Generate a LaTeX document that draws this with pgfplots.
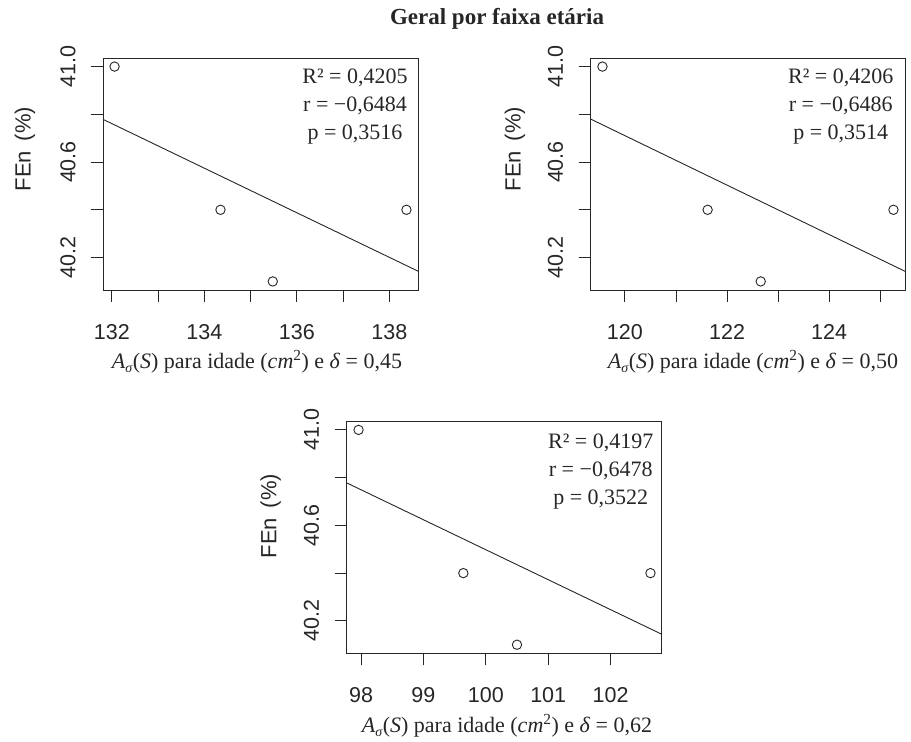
\documentclass[border=0pt]{standalone}
\usepackage{fontspec}
\setmainfont{Liberation Serif}
\setsansfont{Liberation Sans}
\usepackage{pgfplots}
\pgfplotsset{compat=1.18}
\definecolor{ink}{gray}{0.15}
\pgfplotsset{
 panel/.style={
  scale only axis, width=315bp, height=232bp,
  axis line style={line width=0.9bp, ink},
  tick align=outside, major tick length=12bp,
  tick style={line width=0.9bp, ink},
  xtick pos=bottom, ytick pos=left,
  ymin=40.064, ymax=41.036,
  ytick={40.2,40.4,40.6,40.8,41.0},
  yticklabels={40.2,,40.6,,41.0},
  ticklabel style={font=\fontsize{21.5bp}{24bp}\sffamily\selectfont, text=ink},
  yticklabel style={xshift=-12bp, rotate=90, anchor=south},
  xticklabel style={anchor=center, yshift=-30bp},
 },
 pts/.style={only marks, mark=o, mark size=4.7bp, mark options={line width=0.9bp, ink}},
 fit/.style={ink, line width=0.9bp},
}
\newcommand{\xlab}[1]{\textit{A}\raisebox{-0.22em}{\fontsize{14bp}{15bp}\selectfont\textit{σ}}(\textit{S}) para idade (\textit{cm}\textsuperscript{2}) e \textit{δ} = #1}
\begin{document}
\begin{tikzpicture}[x=1bp,y=1bp]
\useasboundingbox (0,0) rectangle (911,-742);
\node[font=\fontsize{23bp}{26bp}\selectfont\bfseries, text=ink] at (497,-19) {Geral por faixa etária};
% Panel 1
\begin{axis}[panel, at={(103bp,-290bp)}, anchor=south west,
  xmin=131.81, xmax=138.62,
  xtick={132,133,134,135,136,137,138},
  xticklabels={132,,134,,136,,138}]
\addplot[pts] coordinates {(132.06,41.0) (134.35,40.4) (135.48,40.1) (138.37,40.4)};
\addplot[fit] coordinates {(131.81,40.779) (138.62,40.143)};
\end{axis}
% Panel 2
\begin{axis}[panel, at={(590.7bp,-290bp)}, anchor=south west,
  xmin=119.33, xmax=125.50,
  xtick={120,121,122,123,124,125},
  xticklabels={120,,122,,124,}]
\addplot[pts] coordinates {(119.56,41.0) (121.62,40.4) (122.66,40.1) (125.26,40.4)};
\addplot[fit] coordinates {(119.33,40.780) (125.50,40.141)};
\end{axis}
% Panel 3
\begin{axis}[panel, at={(346.7bp,-653.3bp)}, anchor=south west,
  xmin=97.77, xmax=102.82,
  xtick={98,99,100,101,102},
  xticklabels={98,99,100,101,102}]
\addplot[pts] coordinates {(97.96,41.0) (99.64,40.4) (100.50,40.1) (102.64,40.4)};
\addplot[fit] coordinates {(97.77,40.778) (102.82,40.144)};
\end{axis}
% y labels
\foreach \xx/\yy in {25/149, 515/149, 270.7/516}{
  \node[rotate=90, font=\fontsize{22bp}{24bp}\sffamily\selectfont, text=ink] at (\xx,-\yy) {FEn\hspace{0.45em}(\%)};
}
% x labels
\tikzset{xl/.style={anchor=base, font=\fontsize{22bp}{24bp}\selectfont, text=ink}}
\node[xl] at (257,-368) {\xlab{0,45}};
\node[xl] at (753,-368) {\xlab{0,50}};
\node[xl] at (507,-732) {\xlab{0,62}};
% annotations
\tikzset{an/.style={anchor=base, font=\fontsize{22bp}{24bp}\selectfont, text=ink}}
\node[an] at (355,-83.5) {R² = 0,4205};
\node[an] at (355,-111.8) {r = −0,6484};
\node[an] at (355,-139.5) {p = 0,3516};
\node[an] at (840.7,-83.5) {R² = 0,4206};
\node[an] at (840.7,-111.8) {r = −0,6486};
\node[an] at (840.7,-139.5) {p = 0,3514};
\node[an] at (600.7,-448.3) {R² = 0,4197};
\node[an] at (600.7,-476.7) {r = −0,6478};
\node[an] at (600.7,-504.5) {p = 0,3522};
\end{tikzpicture}
\end{document}
